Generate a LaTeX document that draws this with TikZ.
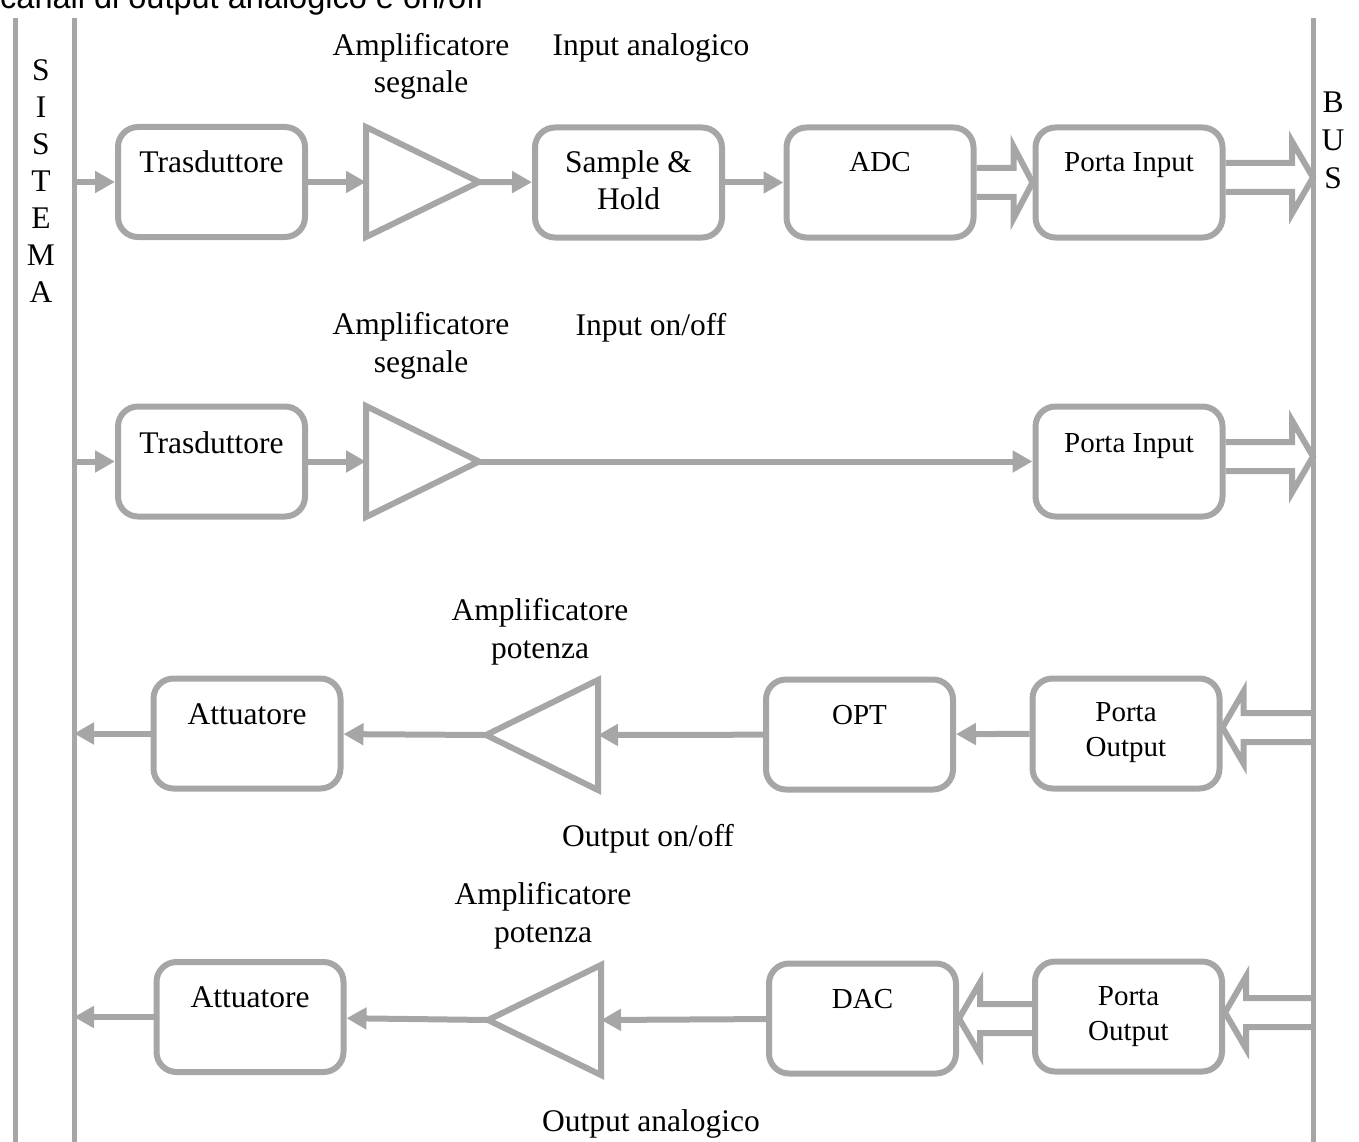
\documentclass[tikz,border=0pt]{standalone}
\usepackage{fontspec}
\setmainfont{Liberation Serif}
\newfontfamily\headsans{Liberation Sans}
\usetikzlibrary{arrows.meta,calc}
\definecolor{linegray}{HTML}{A6A6A6}

% wide hollow arrow: #1 start point, #2 tip point, #3 signed head length
\newcommand\widearrow[3]{%
  \draw[hollow] let \p1=(#1), \p2=(#2) in
    ({\x1},{\y2+14.5pt}) -- ({\x2-(#3)*1pt},{\y2+14.5pt}) -- ({\x2-(#3)*1pt},{\y2+36pt})
    -- ({\x2},{\y2}) -- ({\x2-(#3)*1pt},{\y2-36pt}) -- ({\x2-(#3)*1pt},{\y2-14.5pt})
    -- ({\x1},{\y2-14.5pt});}

\begin{document}
\begin{tikzpicture}[x=1pt,y=-1pt,
  blk/.style={draw=linegray, line width=6pt, rounded corners=20pt, minimum width=187pt,
              minimum height=110pt, inner sep=0pt, fill=white},
  amp/.style={draw=linegray, line width=6pt, line join=miter},
  sig/.style={draw=linegray, line width=6pt, -{Triangle[length=20pt,width=21pt]}},
  hollow/.style={draw=linegray, line width=6pt, line join=miter},
  rail/.style={draw=linegray, line width=5pt},
  big/.style={font=\fontsize{31.5}{37.5}\selectfont, inner sep=0pt, align=center},
  small/.style={font=\fontsize{29}{35}\selectfont, inner sep=0pt, align=center},
]
\useasboundingbox (0,0) rectangle (1359,1142);

% heading line cut by the page edge
\node[font=\headsans\fontsize{32.5}{39}\selectfont, anchor=base west, inner sep=0pt] (hdr)
  at (0,9) {canali di output analogico e on/off};

% system and bus rails (multi-line labels are placed by their last baseline)
\draw[rail] (15,18) -- (15,1150);
\draw[rail] (74,18) -- (74,1150);
\draw[rail] (1313,18) -- (1313,1150);
\node[big, anchor=base, font=\fontsize{31.5}{37}\selectfont] (sis) at (41,302) {S\\I\\S\\T\\E\\M\\A};
\node[big, anchor=base, font=\fontsize{31.5}{38}\selectfont] (bus) at (1333,189) {B\\U\\S};

% ---------- analog input channel ----------
\node[blk] (tr1) at (211.5,182) {};
\node[blk] (sh1) at (628.5,182.5) {};
\node[blk] (adc1) at (880,182.5) {};
\node[blk] (pi1) at (1129,182.5) {};
\draw[amp] (366,127) -- (479,182) -- (366,237) -- cycle;
\coordinate (a1b) at (366,182);
\coordinate (a1a) at (479,182);
\coordinate (s1) at (74,182);
\coordinate (bus1) at (1313,177.5);
\draw[sig] (s1) -- (tr1);
\draw[sig] (tr1.east) -- (a1b);
\draw[sig] (a1a) -- (sh1);
\draw[sig] (sh1) -- (adc1);
\widearrow{adc1.east}{pi1.west}{19}
\widearrow{pi1.east}{bus1}{21}
\node[big, anchor=base] (tt1) at (211.5,173) {Trasduttore};
\node[big, anchor=base] (tsh1) at (628.5,210) {Sample \&\\Hold};
\node[small, anchor=base] (tadc1) at (880,172) {ADC};
\node[small, anchor=base] (tpi1) at (1129,172) {Porta Input};
\node[big, anchor=base] (lamp1) at (421,93) {Amplificatore\\segnale};
\node[big, anchor=base] (lin1) at (651,56) {Input analogico};

% ---------- on/off input channel ----------
\node[blk] (tr2) at (211.5,461.5) {};
\node[blk] (pi2) at (1129,461.5) {};
\draw[amp] (366,406) -- (479,461.5) -- (366,517) -- cycle;
\coordinate (a2b) at (366,461.5);
\coordinate (a2a) at (479,461.5);
\coordinate (s2) at (74,461.5);
\coordinate (bus2) at (1313,456.5);
\draw[sig] (s2) -- (tr2);
\draw[sig] (tr2.east) -- (a2b);
\draw[sig] (a2a) -- (pi2);
\widearrow{pi2.east}{bus2}{21}
\node[big, anchor=base] (tt2) at (211.5,453) {Trasduttore};
\node[small, anchor=base] (tpi2) at (1129,452) {Porta Input};
\node[big, anchor=base] (lamp2) at (421,372) {Amplificatore\\segnale};
\node[big, anchor=base] (lin2) at (651,335) {Input on/off};

% ---------- on/off output channel ----------
\node[blk] (at3) at (247,733.5) {};
\node[blk] (opt3) at (859.5,734.5) {};
\node[blk] (po3) at (1126,733.5) {};
\draw[amp] (598,680) -- (486,735) -- (598,790) -- cycle;
\coordinate (a3a) at (486,735);
\coordinate (a3b) at (598,735);
\coordinate (s3) at (74,733.5);
\coordinate (bus3) at (1313,727.5);
\draw[sig] (at3) -- (s3);
\draw[sig] (a3a) -- (at3);
\draw[sig] (opt3) -- (a3b);
\draw[sig] (po3) -- (opt3);
\widearrow{bus3}{$(po3.east)+(0,-6)$}{-21}
\node[big, anchor=base] (tat3) at (247,724) {Attuatore};
\node[small, anchor=base] (topt3) at (859.5,724) {OPT};
\node[small, anchor=base] (tpo3) at (1126,756) {Porta\\Output};
\node[big, anchor=base] (lamp3) at (540,658) {Amplificatore\\potenza};
\node[big, anchor=base] (lout3) at (648,846) {Output on/off};

% ---------- analog output channel ----------
\node[blk] (at4) at (250,1017) {};
\node[blk] (dac4) at (862.5,1018.5) {};
\node[blk] (po4) at (1128.5,1016.5) {};
\draw[amp] (601,965) -- (488,1020) -- (601,1075) -- cycle;
\coordinate (a4a) at (488,1020);
\coordinate (a4b) at (601,1020);
\coordinate (s4) at (74,1017);
\coordinate (bus4) at (1313,1012.5);
\draw[sig] (at4) -- (s4);
\draw[sig] (a4a) -- (at4);
\draw[sig] (dac4) -- (a4b);
\widearrow{po4.west}{dac4.east}{-21}
\widearrow{bus4}{$(po4.east)+(0,-4)$}{-21}
\node[big, anchor=base] (tat4) at (250,1007) {Attuatore};
\node[small, anchor=base] (tdac4) at (862.5,1008) {DAC};
\node[small, anchor=base] (tpo4) at (1128.5,1040) {Porta\\Output};
\node[big, anchor=base] (lamp4) at (543,942) {Amplificatore\\potenza};
\node[big, anchor=base] (lout4) at (651,1131) {Output analogico};
\end{tikzpicture}
\end{document}
